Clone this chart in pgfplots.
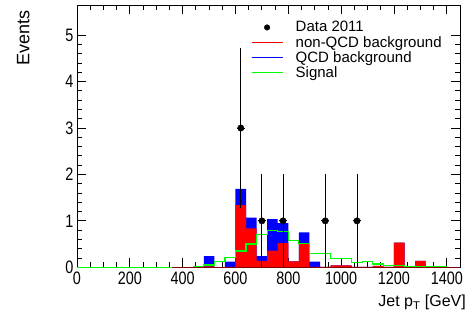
\documentclass[border=0pt]{standalone}
\usepackage{fontspec}
\setmainfont{Liberation Sans}
\newfontfamily\tickfont{Liberation Sans}[FakeStretch=0.8]
\usepackage{pgfplots}
\pgfplotsset{compat=1.18}
\definecolor{rootred}{RGB}{255,0,0}
\definecolor{rootblue}{RGB}{0,0,255}
\definecolor{rootgreen}{RGB}{0,255,0}
\definecolor{darkred}{RGB}{128,0,0}
\begin{document}
\begin{tikzpicture}
\path[use as bounding box] (-77bp,-52.7bp) rectangle (393bp,267.3bp);
\begin{axis}[
  at={(0,0)}, anchor=south west,
  scale only axis, width=383bp, height=262.3bp,
  xmin=0, xmax=1450, ymin=0, ymax=5.65,
  xtick={0,200,...,1400}, ytick={0,1,...,5},
  minor x tick num=3, minor y tick num=4,
  tick align=inside,
  major tick length=9bp, minor tick length=5bp,
  axis line style={line width=0.8bp},
  every tick/.style={black, line width=0.8bp},
  scaled x ticks=false, scaled y ticks=false,
  /pgf/number format/assume math mode=true,
  /pgf/number format/1000 sep={},
  tick label style={font=\tickfont\fontsize{18bp}{21bp}\selectfont},
  xticklabel style={inner sep=0pt, yshift=-4.5bp},
  yticklabel style={inner sep=0pt, xshift=-3.5bp},
  xlabel={Jet p$_{\mathrm{T}}$ [GeV]},
  ylabel={Events},
  label style={font=\fontsize{16bp}{19bp}\selectfont},
  xlabel style={at={(axis description cs:1,0)}, anchor=base east, yshift=-39.4bp, xshift=6bp, inner sep=0pt},
  ylabel style={at={(axis description cs:-0.1245,0.981)}, anchor=base east, inner sep=0pt, font=\fontsize{18bp}{21bp}\selectfont},
  legend style={at={(axis description cs:0.4466,0.9486)}, anchor=north west, draw=none, fill=none,
    font=\fontsize{15bp}{17bp}\selectfont, row sep=1.2bp,
    nodes={inner sep=0.8bp},
    /tikz/every odd column/.append style={column sep=12bp}},
  legend cell align=left,
]
% QCD + non-QCD total (blue)
\addplot[const plot, fill=rootblue, draw=none, forget plot] coordinates {
(0,0) (440,0) (480,0.24) (520,0) (560,0.12) (600,1.69) (640,1.07) (680,0.24)
(720,1.04) (760,0.95) (800,0.13) (840,0.75) (880,0.12) (920,0.01) (960,0.04)
(1000,0.04) (1040,0.01) (1080,0.01) (1120,0.03) (1160,0.01) (1200,0.53)
(1240,0.01) (1280,0.14) (1320,0) (1450,0)} \closedcycle;
% non-QCD (red)
\addplot[const plot, fill=rootred, draw=none, forget plot] coordinates {
(0,0) (440,0) (480,0.02) (520,0) (560,0.01) (600,1.34) (640,0.84) (680,0.14)
(720,0.36) (760,0.52) (800,0.13) (840,0.50) (880,0.01) (920,0.01) (960,0.04)
(1000,0.04) (1040,0.01) (1080,0.01) (1120,0.03) (1160,0.01) (1200,0.53)
(1240,0.01) (1280,0.14) (1320,0) (1450,0)} \closedcycle;
% signal
\addplot[const plot, draw=rootgreen, line width=1.2bp, forget plot] coordinates {
(0,0) (440,0.01) (480,0.05) (520,0.12) (560,0.21) (600,0.35) (640,0.50)
(680,0.71) (720,0.80) (760,0.77) (800,0.57) (840,0.52) (880,0.30) (920,0.30)
(960,0.19) (1000,0.19) (1040,0.10) (1080,0.13) (1120,0.07) (1160,0.04)
(1200,0.04) (1240,0.02) (1280,0.02) (1320,0.01) (1360,0.01) (1400,0) (1450,0)};
% baseline of non-QCD histogram
\addplot[draw=darkred, line width=1bp, forget plot] coordinates {(360,0) (1450,0)};
% data
\addplot[only marks, mark=*, mark size=3.2bp, black, forget plot,
  error bars/.cd, y dir=both, y explicit, x dir=both, x explicit,
  error mark=none, error bar style={line width=0.9bp, black}]
  table[x=x, y=y, x error=ex, y error=ey] {
x y ex ey
620 3 15 1.732
700 1 15 1
780 1 15 1
940 1 15 1
1060 1 15 1
};
\addlegendimage{legend image code/.code={\fill[black] (15.5bp,0bp) circle (2.8bp);}}
\addlegendentry{Data 2011}
\addlegendimage{legend image code/.code={\draw[rootred, line width=0.7bp] (0bp,0bp) -- (31bp,0bp);}}
\addlegendentry{non-QCD background}
\addlegendimage{legend image code/.code={\draw[rootblue, line width=0.7bp] (0bp,0bp) -- (31bp,0bp);}}
\addlegendentry{QCD background}
\addlegendimage{legend image code/.code={\draw[rootgreen, line width=0.7bp] (0bp,0bp) -- (31bp,0bp);}}
\addlegendentry{Signal}
\end{axis}
\end{tikzpicture}
\end{document}
